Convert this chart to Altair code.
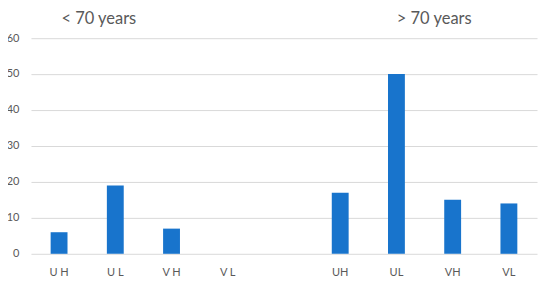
import altair as alt
import pandas as pd

categories = ["U H", "U L", "V H", "V L", "gap", "UH", "UL", "VH", "VL"]
values = [6, 19, 7, 0, None, 17, 50, 15, 14]
group_titles = ["< 70 years", "> 70 years"]

df = pd.DataFrame({"cat": categories, "val": values}).dropna()

bars = alt.Chart(df).mark_bar(color="#1874CC").encode(
    x=alt.X("cat:N", sort=categories,
            scale=alt.Scale(domain=categories, paddingInner=0.7, paddingOuter=0.35),
            axis=alt.Axis(title=None, labelAngle=0, domain=False, ticks=False,
                          labelExpr="datum.value == 'gap' ? '' : datum.value",
                          labelFont="Lato", labelFontSize=11, labelColor="#595959",
                          labelPadding=13)),
    y=alt.Y("val:Q", scale=alt.Scale(domain=[0, 68], nice=False, zero=True),
            axis=alt.Axis(title=None, values=[0, 10, 20, 30, 40, 50, 60], domain=False,
                          ticks=False, labelFont="Lato", labelFontSize=11,
                          labelColor="#595959", labelPadding=12,
                          gridColor="#d9d9d9", gridWidth=1)),
)

tdf = pd.DataFrame({"t": group_titles, "px": [68, 404], "yv": [64.0, 64.0]})
titles = alt.Chart(tdf).mark_text(font="Lato", fontSize=16.5, color="#595959",
                                  align="center", baseline="alphabetic").encode(
    text="t:N",
    x=alt.X("px:Q", scale=None),
    y=alt.Y("yv:Q"),
)

chart = alt.layer(bars, titles).properties(
    width=507, height=245,
    autosize=alt.AutoSizeParams(type="none"),
    padding={"left": 23, "top": 1, "right": 5, "bottom": 29},
).configure_view(stroke=None)

chart.save("out.html", embed_options={"renderer": "svg", "actions": False})
